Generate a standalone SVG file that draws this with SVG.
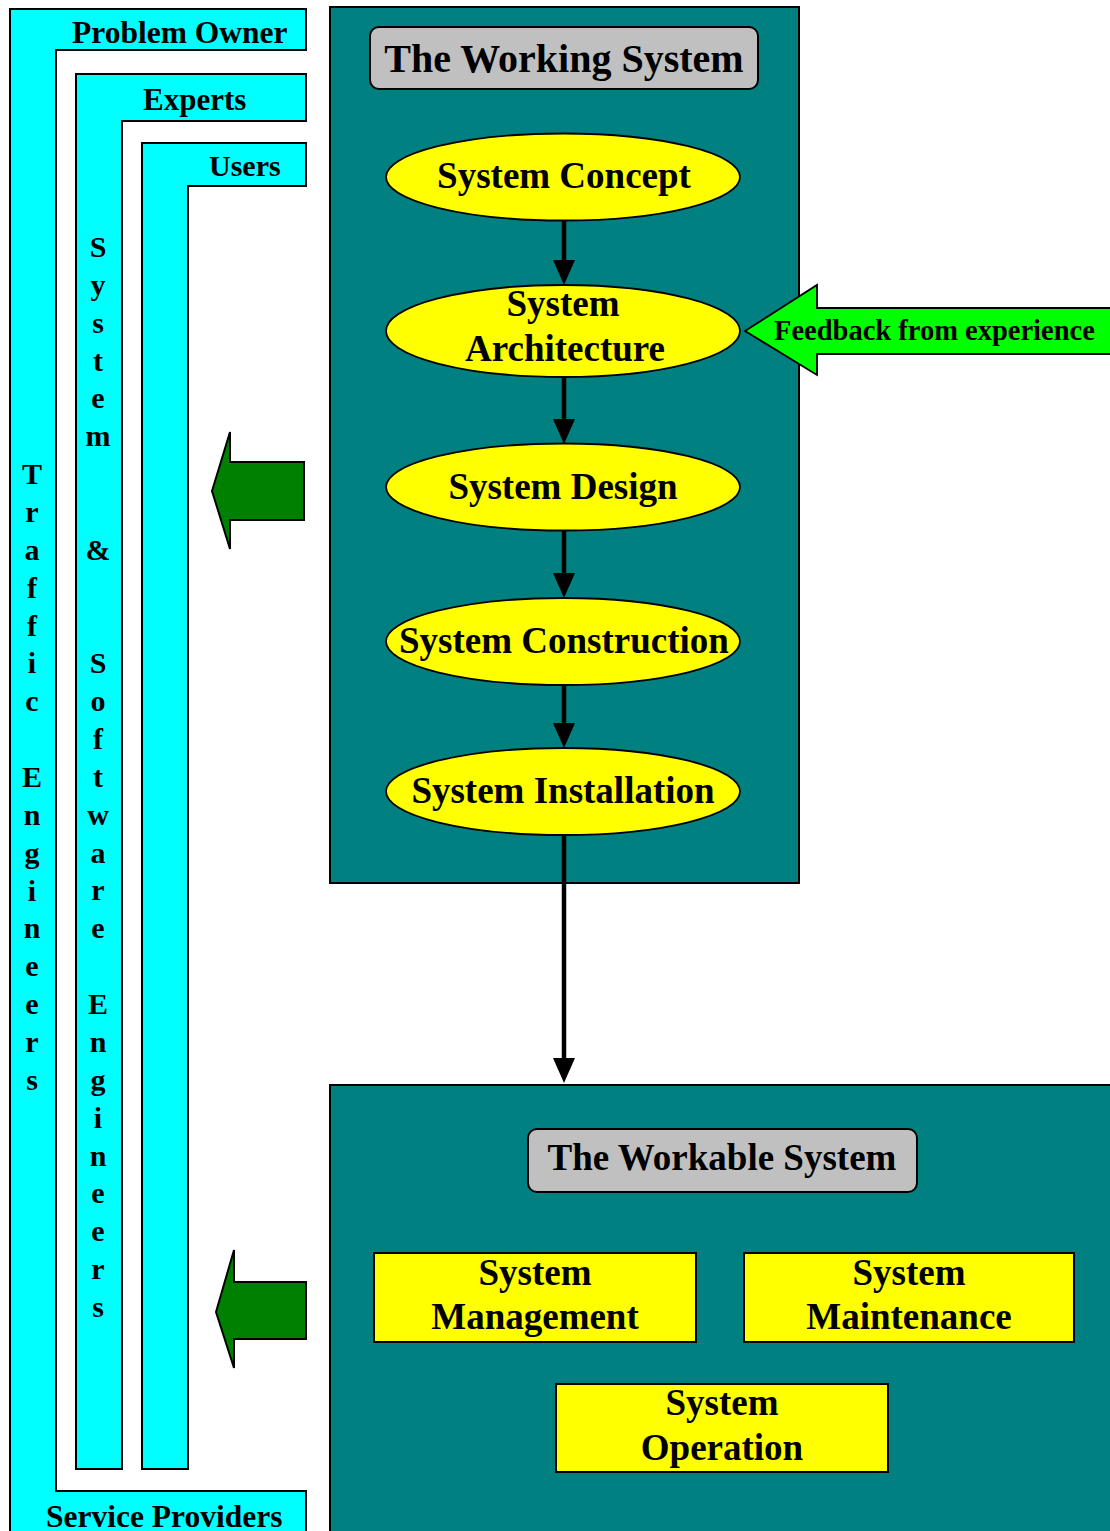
<svg xmlns="http://www.w3.org/2000/svg" width="1110" height="1531" viewBox="0 0 1110 1531">
  <style>
    text { font-family: "Liberation Serif", "Times New Roman", serif; font-weight: bold; fill: #000; }
    .band { fill: #00FFFF; stroke: #000; stroke-width: 2; }
    .panel { fill: #008080; stroke: #000; stroke-width: 2; }
    .title { fill: #C0C0C0; stroke: #000; stroke-width: 2; }
    .stage { fill: #FFFF00; stroke: #000; stroke-width: 1.8; }
    .task { fill: #FFFF00; stroke: #000; stroke-width: 2; }
    .push { fill: #008000; stroke: #000; stroke-width: 2; }
    .feedback { fill: #00FF00; stroke: #000; stroke-width: 1.8; }
    .flow { stroke: #000; stroke-width: 4.5; fill: none; marker-end: url(#head); }
    .mid { text-anchor: middle; }
  </style>
  <defs>
    <marker id="head" viewBox="0 -12 26 24" markerUnits="userSpaceOnUse" markerWidth="26" markerHeight="24" refX="13" refY="0" orient="auto">
      <path d="M0,-11 L25,0 L0,11 z" fill="#000"/>
    </marker>
  </defs>

  <rect width="1110" height="1531" fill="#FFFFFF"/>

  <!-- stakeholder bands -->
  <g id="problem-owner">
    <polygon class="band" points="10,9 306,9 306,50 56,50 56,1491 306,1491 306,1540 10,1540"/>
    <text x="72" y="43" font-size="31.5">Problem Owner</text>
    <text x="46" y="1527" font-size="31.5">Service Providers</text>
    <text class="mid" font-size="30">
      <tspan x="32" y="484">T</tspan><tspan x="32" y="522">r</tspan><tspan x="32" y="560">a</tspan><tspan x="32" y="598">f</tspan><tspan x="32" y="636">f</tspan><tspan x="32" y="673">i</tspan><tspan x="32" y="711">c</tspan><tspan x="32" y="787">E</tspan><tspan x="32" y="825">n</tspan><tspan x="32" y="863">g</tspan><tspan x="32" y="901">i</tspan><tspan x="32" y="938">n</tspan><tspan x="32" y="976">e</tspan><tspan x="32" y="1014">e</tspan><tspan x="32" y="1052">r</tspan><tspan x="32" y="1090">s</tspan>
    </text>
  </g>

  <g id="experts">
    <polygon class="band" points="76,74 306,74 306,121 122,121 122,1469 76,1469"/>
    <text x="143" y="110" font-size="31">Experts</text>
    <text class="mid" font-size="30">
      <tspan x="98" y="257">S</tspan><tspan x="98" y="295">y</tspan><tspan x="98" y="333">s</tspan><tspan x="98" y="371">t</tspan><tspan x="98" y="408">e</tspan><tspan x="98" y="446">m</tspan><tspan x="98" y="560">&amp;</tspan><tspan x="98" y="673">S</tspan><tspan x="98" y="711">o</tspan><tspan x="98" y="749">f</tspan><tspan x="98" y="787">t</tspan><tspan x="98" y="825">w</tspan><tspan x="98" y="863">a</tspan><tspan x="98" y="900">r</tspan><tspan x="98" y="938">e</tspan><tspan x="98" y="1014">E</tspan><tspan x="98" y="1052">n</tspan><tspan x="98" y="1090">g</tspan><tspan x="98" y="1128">i</tspan><tspan x="98" y="1166">n</tspan><tspan x="98" y="1203">e</tspan><tspan x="98" y="1241">e</tspan><tspan x="98" y="1279">r</tspan><tspan x="98" y="1317">s</tspan>
    </text>
  </g>

  <g id="users">
    <polygon class="band" points="142,143 306,143 306,186 188,186 188,1469 142,1469"/>
    <text x="209" y="176" font-size="30">Users</text>
  </g>

  <!-- development panel -->
  <g id="working-system">
    <rect class="panel" x="330" y="7" width="469" height="876"/>
    <rect class="title" x="370" y="27" width="388" height="62" rx="9"/>
    <text class="mid" x="564" y="72" font-size="40">The Working System</text>
  </g>

  <g id="system-concept">
    <ellipse class="stage" cx="563" cy="177" rx="177" ry="43.5"/>
    <text class="mid" x="564" y="188" font-size="37">System Concept</text>
  </g>
  <g id="system-architecture">
    <ellipse class="stage" cx="563" cy="331" rx="177" ry="46"/>
    <text class="mid" x="563" y="316" font-size="37">System</text>
    <text class="mid" x="565" y="361" font-size="37">Architecture</text>
  </g>
  <g id="system-design">
    <ellipse class="stage" cx="563" cy="487" rx="177" ry="43.5"/>
    <text class="mid" x="563" y="499" font-size="37">System Design</text>
  </g>
  <g id="system-construction">
    <ellipse class="stage" cx="563" cy="641.5" rx="177" ry="43.5"/>
    <text class="mid" x="564" y="653" font-size="37">System Construction</text>
  </g>
  <g id="system-installation">
    <ellipse class="stage" cx="563" cy="791.5" rx="177" ry="43.5"/>
    <text class="mid" x="563" y="803" font-size="37">System Installation</text>
  </g>

  <!-- feedback into the architecture -->
  <g id="feedback">
    <polygon class="feedback" points="745,331 817,285 817,308 1116,308 1116,354 817,354 817,375"/>
    <text x="774" y="340" font-size="28.5">Feedback from experience</text>
  </g>

  <!-- stakeholder involvement arrows -->
  <g id="involve-working">
    <polygon class="push" points="212,491 230,432 230,462 304,462 304,520 230,520 230,549"/>
  </g>
  <g id="involve-workable">
    <polygon class="push" points="216,1312 234,1250 234,1282 306,1282 306,1339 234,1339 234,1368"/>
  </g>

  <!-- operations panel -->
  <g id="workable-system">
    <rect class="panel" x="330" y="1085" width="800" height="460"/>
    <rect class="title" x="528" y="1129" width="389" height="63" rx="9"/>
    <text class="mid" x="722" y="1170" font-size="37">The Workable System</text>
  </g>
  <g id="system-management">
    <rect class="task" x="374" y="1253" width="322" height="89"/>
    <text class="mid" x="535" y="1285" font-size="37">System</text>
    <text class="mid" x="535" y="1329" font-size="37">Management</text>
  </g>
  <g id="system-maintenance">
    <rect class="task" x="744" y="1253" width="330" height="89"/>
    <text class="mid" x="909" y="1285" font-size="37">System</text>
    <text class="mid" x="909" y="1329" font-size="37">Maintenance</text>
  </g>
  <g id="system-operation">
    <rect class="task" x="556" y="1384" width="332" height="88"/>
    <text class="mid" x="722" y="1415" font-size="37">System</text>
    <text class="mid" x="722" y="1460" font-size="37">Operation</text>
  </g>

  <!-- lifecycle flow -->
  <g id="connectors">
    <line class="flow" x1="564" y1="220" x2="564" y2="273"/>
    <line class="flow" x1="564" y1="377" x2="564" y2="432"/>
    <line class="flow" x1="564" y1="530" x2="564" y2="586"/>
    <line class="flow" x1="564" y1="685" x2="564" y2="736"/>
    <line class="flow" x1="564" y1="835" x2="564" y2="1071"/>
  </g>
</svg>
